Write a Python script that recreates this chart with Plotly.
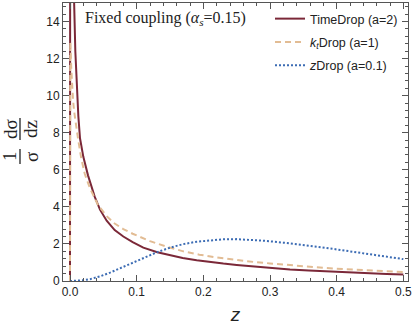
import plotly.graph_objects as go

# --- data ------------------------------------------------------------------
time_z = [0.0, 0.0004, 0.002, 0.004, 0.006, 0.008, 0.010, 0.0125, 0.015, 0.02,
          0.027, 0.037, 0.045, 0.055, 0.067, 0.08, 0.094, 0.11, 0.131, 0.15,
          0.169, 0.19, 0.209, 0.23, 0.25, 0.275, 0.303, 0.33, 0.358, 0.38,
          0.4, 0.425, 0.45, 0.475, 0.5]
time_v = [0.0, 30.0, 40.0, 22.0, 15.3, 12.4, 10.5, 8.9, 7.7, 6.7,
          5.7, 4.55, 3.85, 3.25, 2.75, 2.4, 2.1, 1.8, 1.55, 1.38,
          1.24, 1.12, 1.02, 0.94, 0.87, 0.78, 0.70, 0.62, 0.56, 0.52,
          0.48, 0.45, 0.41, 0.38, 0.35]

kt_z = [0.0, 0.0004, 0.001, 0.002, 0.003, 0.0045, 0.006, 0.009, 0.0124, 0.017,
        0.022, 0.03, 0.042, 0.055, 0.067, 0.08, 0.094, 0.12, 0.145, 0.17,
        0.194, 0.22, 0.25, 0.275, 0.3, 0.33, 0.358, 0.38, 0.4, 0.43,
        0.46, 0.5]
kt_v = [0.0, 12.9, 12.4, 11.4, 10.6, 9.8, 9.2, 8.3, 7.6, 6.6,
        5.8, 5.0, 4.1, 3.5, 3.1, 2.8, 2.55, 2.15, 1.85, 1.6,
        1.42, 1.27, 1.13, 1.03, 0.95, 0.85, 0.77, 0.71, 0.66, 0.6,
        0.55, 0.48]

zdrop_z = [0.0, 0.01, 0.02, 0.03, 0.045, 0.06, 0.075, 0.094, 0.11, 0.131,
           0.15, 0.17, 0.19, 0.21, 0.23, 0.25, 0.27, 0.295, 0.32, 0.345,
           0.37, 0.395, 0.42, 0.445, 0.47, 0.5]
zdrop_v = [0.0, 0.01, 0.04, 0.1, 0.25, 0.45, 0.68, 0.98, 1.25, 1.56,
           1.8, 1.99, 2.12, 2.2, 2.25, 2.26, 2.23, 2.16, 2.07, 1.97,
           1.85, 1.73, 1.6, 1.47, 1.33, 1.18]

y_ticks = [0, 2, 4, 6, 8, 10, 12, 14]
x_ticks = [0.0, 0.1, 0.2, 0.3, 0.4, 0.5]
x_ticklabels = ["0.0", "0.1", "0.2", "0.3", "0.4", "0.5"]

# --- geometry helpers (pixel -> paper) ---------------------------------------
W, H = 415, 326
ML, MR, MT, MB = 63, 7, 3, 45
PW, PH = W - ML - MR, H - MT - MB


def px(x):
    return (x - ML) / PW


def py(y):
    return (H - MB - y) / PH


RED = "#7b2838"
TAN = "#e2bc94"
BLUE = "#3c6cb4"
FRAME = "#555555"

fig = go.Figure()
fig.add_trace(go.Scatter(
    x=time_z, y=time_v, mode="lines", name="TimeDrop (a=2)",
    legendgroup="a", line=dict(color=RED, width=2),
))
fig.add_trace(go.Scatter(
    x=kt_z, y=kt_v, mode="lines", name="<i>k</i><sub><i>t</i></sub>Drop (a=1)",
    legendgroup="b", line=dict(color=TAN, width=2, dash="6px,4px"),
))
fig.add_trace(go.Scatter(
    x=zdrop_z, y=zdrop_v, mode="lines", name="<i>z</i>Drop (a=0.1)",
    legendgroup="c", line=dict(color=BLUE, width=2, dash="2px,2px"),
))

axis_common = dict(
    showline=True, linecolor=FRAME, linewidth=1, mirror="allticks",
    ticks="inside", tickcolor=FRAME, ticklen=6, showgrid=False, zeroline=False,
    automargin=False,
    tickfont=dict(family="Liberation Sans", size=12, color="#222"),
)

fig.update_layout(
    width=W, height=H,
    margin=dict(l=ML, r=MR, t=MT, b=MB, autoexpand=False),
    paper_bgcolor="white", plot_bgcolor="white",
    font=dict(family="Liberation Sans", color="#222"),
    xaxis=dict(
        **axis_common, range=[-0.0105, 0.507],
        tickvals=x_ticks, ticktext=x_ticklabels,
        minor=dict(dtick=0.02, ticks="inside", ticklen=3, tickcolor=FRAME),
        title=dict(text="<i>z</i>", font=dict(family="Liberation Sans", size=19), standoff=9),
    ),
    yaxis=dict(
        **axis_common, range=[0, 15], tickvals=y_ticks,
        minor=dict(dtick=0.4, ticks="inside", ticklen=3, tickcolor=FRAME),
    ),
    legend=dict(
        x=px(270), y=py(4), xanchor="left", yanchor="top",
        bgcolor="rgba(0,0,0,0)", tracegroupgap=4,
        font=dict(family="Liberation Sans", size=12.5, color="#222"),
    ),
    showlegend=True,
)

serif = dict(family="Liberation Serif", size=19, color="#222")
fig.add_annotation(x=px(83), y=py(18), xref="paper", yref="paper",
                   xanchor="left", yanchor="middle", showarrow=False,
                   text="Fixed coupling (<i>α<sub>s</sub></i>=0.15)",
                   font=dict(family="Liberation Serif", size=16, color="#222"))

# y label: (1/σ) (dσ/dz), rotated
for text, cx, cy in [("1", 9, 156), ("dσ", 10, 129), ("σ", 31, 157), ("dz", 30, 129)]:
    fig.add_annotation(x=px(cx), y=py(cy), xref="paper", yref="paper",
                       xanchor="center", yanchor="middle", showarrow=False,
                       textangle=-90, text=text, font=serif)
for y0, y1 in [(149, 164), (118, 140)]:
    fig.add_shape(type="line", xref="paper", yref="paper",
                  x0=px(20), x1=px(20), y0=py(y0), y1=py(y1),
                  line=dict(color="#222", width=1.3))

# the page body has a default 8px margin; drop it so the figure sits at 0,0
fig.write_html("out.html", config={"displayModeBar": False},
               post_script="document.body.style.margin='0';")
